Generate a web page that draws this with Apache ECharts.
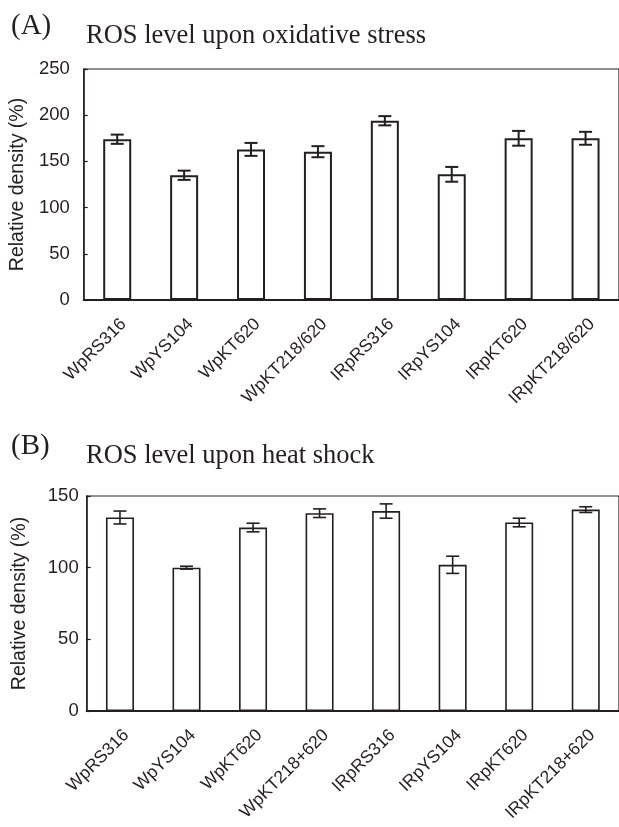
<!DOCTYPE html>
<html>
<head>
<meta charset="utf-8">
<script src="https://cdn.jsdelivr.net/npm/echarts@6/dist/echarts.min.js"></script>
<style>
    html, body { margin: 0; padding: 0; background: #fff; }
    #chart { width: 619px; height: 827px; }
</style>
</head>
<body>
<div id="chart"></div>
<script>
    // (A) oxidative stress
    var CATS_A = ['WpRS316','WpYS104','WpKT620','WpKT218/620','IRpRS316','IRpYS104','IRpKT620','IRpKT218/620'];
    var VALUES_A = [174, 135, 163, 160.5, 194, 136, 175, 175];
    var ERRORS_A = [5, 5, 7, 6, 5, 8, 8, 7];
    var TICKS_A = [0, 50, 100, 150, 200, 250];

    // (B) heat shock
    var CATS_B = ['WpRS316','WpYS104','WpKT620','WpKT218+620','IRpRS316','IRpYS104','IRpKT620','IRpKT218+620'];
    var VALUES_B = [135, 100, 128, 138, 139.5, 102, 131.5, 140.5];
    var ERRORS_B = [4.5, 1, 3, 3, 5, 6, 3, 2];
    var TICKS_B = [0, 50, 100, 150];

    var INK = '#231f20';
    var SANS = '"Liberation Sans", Arial, sans-serif';
    var SERIF = '"Liberation Serif", "Times New Roman", serif';

    function errData(vals, errs){
        var out = [];
        for(var i=0,len=vals.length;i<len;i++)
            out.push([i, vals[i]-errs[i], vals[i]+errs[i]]);
        return out;
    }

    function errSeries(idx, vals, errs, lw){
        return {
            type: 'custom',
            xAxisIndex: idx,
            yAxisIndex: idx,
            z: 5,
            data: errData(vals, errs),
            renderItem: function(params, api){
                var lo = api.coord([api.value(0), api.value(1)]);
                var hi = api.coord([api.value(0), api.value(2)]);
                var hw = 6.5;
                var style = { stroke: INK, lineWidth: lw };
                return {
                    type: 'group',
                    children: [
                        { type: 'line', shape: { x1: lo[0], y1: lo[1], x2: hi[0], y2: hi[1] }, style: style },
                        { type: 'line', shape: { x1: lo[0]-hw, y1: lo[1], x2: lo[0]+hw, y2: lo[1] }, style: style },
                        { type: 'line', shape: { x1: hi[0]-hw, y1: hi[1], x2: hi[0]+hw, y2: hi[1] }, style: style }
                    ]
                };
            }
        };
    }

    function xAxis(idx, cats, lw){
        return {
            type: 'category',
            gridIndex: idx,
            data: cats,
            axisLine: { lineStyle: { color: INK, width: lw } },
            axisTick: { inside: true, length: 5, lineStyle: { color: INK, width: 1.2 } },
            axisLabel: {
                rotate: 45,
                interval: 0,
                margin: 15,
                verticalAlign: 'top',
                color: INK,
                fontFamily: SANS,
                fontSize: 17.5
            }
        };
    }

    function yAxis(idx, ticks, gap, margin, pad){
        return {
            type: 'value',
            gridIndex: idx,
            min: ticks[0],
            max: ticks[ticks.length-1],
            interval: ticks[1]-ticks[0],
            name: 'Relative density (%)',
            nameLocation: 'middle',
            nameGap: gap,
            nameTextStyle: { color: INK, fontFamily: SANS, fontSize: 19.5 },
            splitLine: { show: false },
            axisLine: { show: true, lineStyle: { color: INK, width: 1.5 } },
            axisTick: { show: true, inside: true, length: 4, lineStyle: { color: INK, width: 1.2 } },
            axisLabel: {
                margin: margin,
                color: INK,
                fontFamily: SANS,
                fontSize: 18.5,
                padding: pad
            }
        };
    }

    function barSeries(idx, vals, lw){
        return {
            type: 'bar',
            xAxisIndex: idx,
            yAxisIndex: idx,
            data: vals,
            barWidth: 28,
            itemStyle: { color: '#fff', borderColor: INK, borderWidth: lw }
        };
    }

    function titleText(text, left, top, size){
        return { text: text, left: left, top: top, padding: 0,
            textStyle: { fontFamily: SERIF, fontWeight: 'normal', fontSize: size, color: INK } };
    }

    var chart = echarts.init(document.getElementById('chart'));
    chart.setOption({
        backgroundColor: '#fff',
        animation: false,
        title: [
            titleText('(A)', 11, 12, 29),
            titleText('ROS level upon oxidative stress', 86, 23, 26.5),
            titleText('(B)', 11, 432, 29),
            titleText('ROS level upon heat shock', 86, 443, 26.5)
        ],
        grid: [
            { left: 83, top: 69, width: 541.6, height: 231, show: true, borderColor: INK, borderWidth: 1.2 },
            { left: 86.7, top: 496, width: 544, height: 215, show: true, borderColor: INK, borderWidth: 1.2 }
        ],
        xAxis: [ xAxis(0, CATS_A, 2), xAxis(1, CATS_B, 2) ],
        yAxis: [ yAxis(0, TICKS_A, 53, 14, [6,0,0,0]), yAxis(1, TICKS_B, 57, 8, 0) ],
        series: [
            barSeries(0, VALUES_A, 2),
            errSeries(0, VALUES_A, ERRORS_A, 2),
            barSeries(1, VALUES_B, 1.6),
            errSeries(1, VALUES_B, ERRORS_B, 1.6)
        ]
    });
</script>
</body>
</html>
